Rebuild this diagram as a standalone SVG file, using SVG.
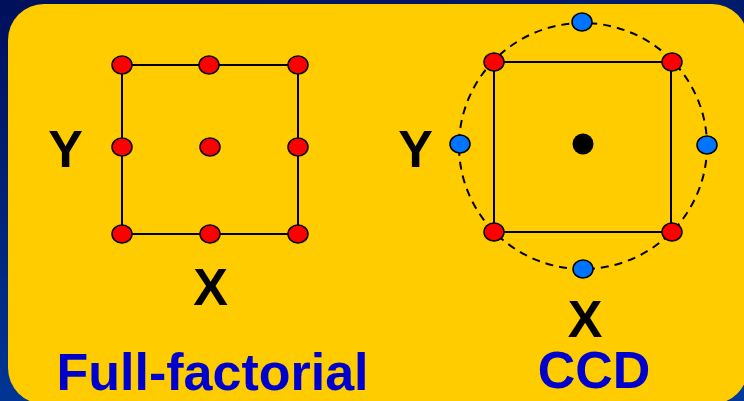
<svg xmlns="http://www.w3.org/2000/svg" width="744" height="401" viewBox="0 0 744 401">
<defs>
<linearGradient id="bg" x1="0" y1="0" x2="0.3" y2="1">
<stop offset="0" stop-color="#000f5a"/>
<stop offset="1" stop-color="#00399a"/>
</linearGradient>
</defs>
<style>
.frame{fill:none;stroke:#000;stroke-width:2}
.red{fill:#ff0000;stroke:#000;stroke-width:1.5}
.blue{fill:#0073ff;stroke:#000;stroke-width:1.5}
.axis{font-family:"Liberation Sans",Arial,sans-serif;font-weight:bold;font-size:52px;fill:#000;text-anchor:middle}
.title{font-family:"Liberation Sans",Arial,sans-serif;font-weight:bold;font-size:52px;fill:#0000cc;text-anchor:middle}
</style>
<rect x="0" y="0" width="744" height="401" fill="url(#bg)"/>
<rect x="8" y="4" width="740" height="400" rx="36" ry="36" fill="#ffcc00"/>
<g id="connectors">
<rect class="frame" x="122" y="65" width="176" height="169"/>
<rect class="frame" x="494" y="62" width="177" height="170"/>
<ellipse cx="583" cy="146" rx="124" ry="123" fill="none" stroke="#000" stroke-width="2" stroke-dasharray="8,6"/>
</g>
<g id="full-factorial">
<ellipse class="red" cx="122" cy="65" rx="10" ry="9"/>
<ellipse class="red" cx="209" cy="65" rx="10" ry="9"/>
<ellipse class="red" cx="298" cy="65" rx="10" ry="9"/>
<ellipse class="red" cx="122" cy="147" rx="10" ry="9"/>
<ellipse class="red" cx="210" cy="147" rx="10" ry="9"/>
<ellipse class="red" cx="298" cy="147" rx="10" ry="9"/>
<ellipse class="red" cx="122" cy="234" rx="10" ry="9"/>
<ellipse class="red" cx="210" cy="234" rx="10" ry="9"/>
<ellipse class="red" cx="298" cy="234" rx="10" ry="9"/>
<text class="axis" x="65.5" y="167">Y</text>
<text class="axis" x="210.5" y="305">X</text>
<text class="title" x="212.5" y="390">Full-factorial</text>
</g>
<g id="ccd">
<ellipse class="red" cx="494" cy="62" rx="10" ry="9"/>
<ellipse class="red" cx="672" cy="62" rx="10" ry="9"/>
<ellipse class="red" cx="494" cy="232" rx="10" ry="9"/>
<ellipse class="red" cx="672" cy="232" rx="10" ry="9"/>
<ellipse class="blue" cx="582" cy="22" rx="10" ry="9"/>
<ellipse class="blue" cx="583" cy="269" rx="10" ry="9"/>
<ellipse class="blue" cx="460" cy="144" rx="10" ry="9"/>
<ellipse class="blue" cx="707" cy="145" rx="10" ry="9"/>
<circle cx="583" cy="144" r="10.5" fill="#000"/>
<text class="axis" x="415.5" y="167">Y</text>
<text class="axis" x="585" y="337">X</text>
<text class="title" x="594" y="388">CCD</text>
</g>
</svg>
